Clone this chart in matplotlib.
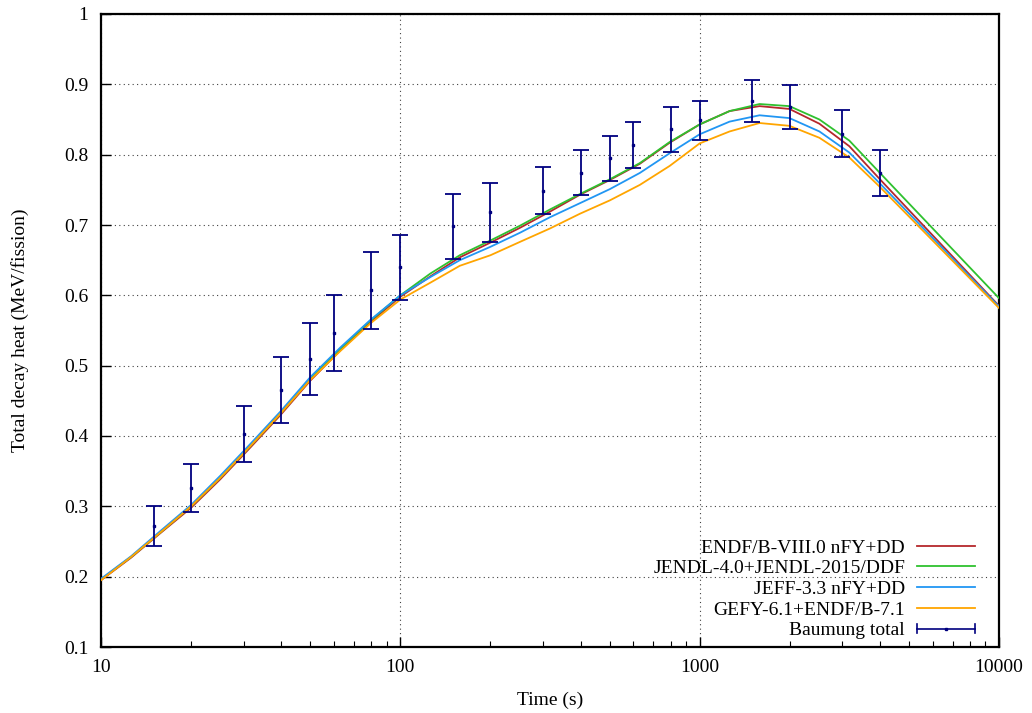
import matplotlib
matplotlib.use("Agg")
import matplotlib.pyplot as plt
from matplotlib.lines import Line2D
from matplotlib.legend_handler import HandlerBase
from matplotlib.ticker import FixedLocator, FixedFormatter, LogLocator, NullFormatter

plt.rcParams['font.family'] = ['Liberation Serif', 'DejaVu Serif']
plt.rcParams['mathtext.fontset'] = 'stix'

# ---- data ----
time_calc = [10, 12.6, 15.8, 20, 25.1, 31.6, 39.8, 50.1, 63.1, 79.4, 100, 126, 158, 200,
             251, 316, 398, 501, 631, 794, 1000, 1259, 1585, 1995, 2512, 3162, 3981, 10000]
endf8 = [0.195, 0.227, 0.262, 0.298, 0.339, 0.384, 0.430, 0.479, 0.522, 0.562, 0.598, 0.627,
         0.654, 0.675, 0.696, 0.719, 0.743, 0.764, 0.787, 0.817, 0.843, 0.862, 0.869, 0.865,
         0.844, 0.812, 0.766, 0.585]
jendl = [0.196, 0.228, 0.263, 0.300, 0.341, 0.386, 0.432, 0.481, 0.524, 0.564, 0.600, 0.631,
         0.657, 0.678, 0.699, 0.722, 0.744, 0.765, 0.788, 0.818, 0.843, 0.862, 0.872, 0.869,
         0.850, 0.820, 0.775, 0.596]
jeff = [0.197, 0.229, 0.265, 0.302, 0.344, 0.389, 0.435, 0.484, 0.526, 0.565, 0.600, 0.626,
        0.650, 0.669, 0.689, 0.711, 0.731, 0.751, 0.774, 0.802, 0.829, 0.847, 0.856, 0.852,
        0.833, 0.803, 0.760, 0.584]
gefy = [0.195, 0.228, 0.263, 0.300, 0.341, 0.386, 0.432, 0.480, 0.521, 0.560, 0.594, 0.618,
        0.642, 0.657, 0.676, 0.695, 0.716, 0.735, 0.757, 0.784, 0.816, 0.833, 0.845, 0.841,
        0.824, 0.796, 0.755, 0.582]

time_exp = [15, 20, 30, 40, 50, 60, 80, 100, 150, 200, 300, 400, 500, 600, 800, 1000,
            1500, 2000, 3000, 4000]
baumung = [0.272, 0.326, 0.403, 0.465, 0.509, 0.547, 0.607, 0.640, 0.698, 0.718, 0.749,
           0.774, 0.795, 0.814, 0.836, 0.849, 0.876, 0.868, 0.830, 0.774]
baumung_err = [0.029, 0.034, 0.040, 0.047, 0.051, 0.054, 0.055, 0.046, 0.046, 0.042, 0.034,
               0.032, 0.032, 0.033, 0.032, 0.028, 0.030, 0.031, 0.034, 0.033]

labels = ["ENDF/B-VIII.0 nFY+DD", "JENDL-4.0+JENDL-2015/DDF", "JEFF-3.3 nFY+DD",
          "GEFY-6.1+ENDF/B-7.1", "Baumung total"]
x_ticks = [10, 100, 1000, 10000]
x_ticklabels = ["10", "100", "1000", "10000"]
y_ticks = [0.1, 0.2, 0.3, 0.4, 0.5, 0.6, 0.7, 0.8, 0.9, 1.0]
y_ticklabels = ["0.1", "0.2", "0.3", "0.4", "0.5", "0.6", "0.7", "0.8", "0.9", "1"]

colors = ["#b5282c", "#2fc12f", "#2196f3", "#ffa500"]
err_color = "#00007f"

fig = plt.figure(figsize=(10.32, 7.13), dpi=100)
ax = fig.add_axes([101/1032, 1 - 647/713, 898/1032, 633/713])

series = [endf8, jendl, jeff, gefy]
handles = []
for s, c, lab in zip(series, colors, labels[:4]):
    h, = ax.plot(time_calc, s, color=c, lw=1.3, label=lab, zorder=3)
    handles.append(h)

ax.errorbar(time_exp, baumung, yerr=baumung_err, fmt='s', ms=2.0, color=err_color,
            ecolor=err_color, elinewidth=1.3, capsize=5.5, capthick=1.3, zorder=4)

ax.set_xscale('log')
ax.set_xlim(10, 10000)
ax.set_ylim(0.1, 1.0)
ax.xaxis.set_major_locator(FixedLocator(x_ticks))
ax.xaxis.set_major_formatter(FixedFormatter(x_ticklabels))
ax.xaxis.set_minor_locator(LogLocator(base=10, subs=range(2, 10)))
ax.xaxis.set_minor_formatter(NullFormatter())
ax.yaxis.set_major_locator(FixedLocator(y_ticks))
ax.yaxis.set_major_formatter(FixedFormatter(y_ticklabels))

ax.tick_params(axis='both', which='major', direction='in', length=7, width=1.0,
               labelsize=14, pad=9, top=False, right=False)
ax.tick_params(axis='x', which='minor', direction='in', length=4, width=0.8, top=False)
for sp in ax.spines.values():
    sp.set_linewidth(1.6)

ax.grid(True, which='major', color='black', linestyle=(0, (1, 3)), linewidth=0.8, alpha=0.75)

ax.set_xlabel("Time (s)", fontsize=14, labelpad=11)
ax.set_ylabel("Total decay heat (MeV/fission)", fontsize=14, labelpad=25)


class ErrHandler(HandlerBase):
    def create_artists(self, legend, orig_handle, xdescent, ydescent, width, height,
                       fontsize, trans):
        y = height / 2 - ydescent
        x0 = -xdescent
        x1 = width - xdescent
        hh = 3.0
        arts = [
            Line2D([x0, x1], [y, y], color=err_color, lw=1.2),
            Line2D([x0, x0], [y - hh, y + hh], color=err_color, lw=1.2),
            Line2D([x1, x1], [y - hh, y + hh], color=err_color, lw=1.2),
            Line2D([(x0 + x1) / 2], [y], color=err_color, marker='s', ms=2, lw=0),
        ]
        for a in arts:
            a.set_transform(trans)
        return arts


err_proxy = Line2D([], [], color=err_color)
leg = ax.legend(handles + [err_proxy], labels, loc='lower right',
                bbox_to_anchor=(0.9733, 0.012), borderaxespad=0, borderpad=0,
                frameon=False, fontsize=14, markerfirst=False, handlelength=3.0,
                handletextpad=0.6, labelspacing=0.16,
                handler_map={err_proxy: ErrHandler()})

fig.savefig("out.png", dpi=100)
